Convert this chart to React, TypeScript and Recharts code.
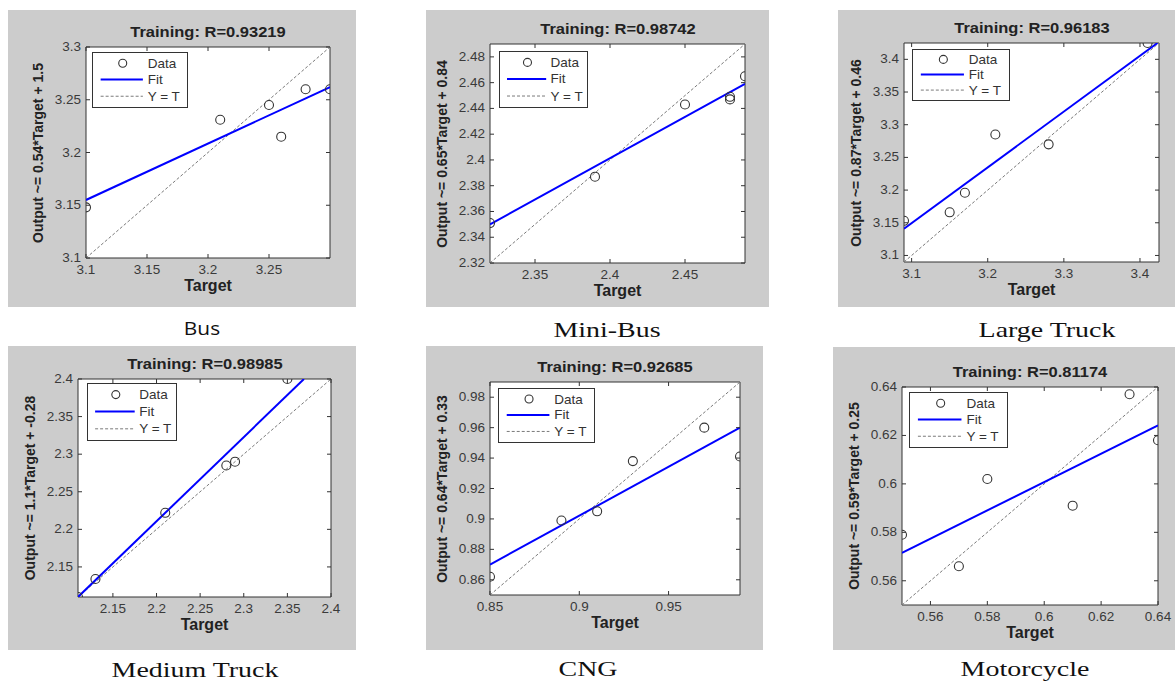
import React from 'react';
import { ScatterChart, Scatter, XAxis, YAxis, CartesianGrid, ReferenceLine } from 'recharts';

// ---------- Bus ----------
const busTarget = [3.1, 3.21, 3.25, 3.26, 3.28, 3.3];
const busOutput = [3.148, 3.231, 3.245, 3.215, 3.26, 3.26];
const busFitX = [3.1, 3.3];
const busFitY = [3.155, 3.262];
const busDomain = [3.1, 3.3];
const busXTicks = [3.1, 3.15, 3.2, 3.25];
const busYTicks = [3.1, 3.15, 3.2, 3.25, 3.3];

// ---------- Mini-Bus ----------
const miniTarget = [2.32, 2.39, 2.45, 2.48, 2.48, 2.49];
const miniOutput = [2.351, 2.387, 2.443, 2.447, 2.449, 2.465];
const miniFitX = [2.32, 2.49];
const miniFitY = [2.35, 2.459];
const miniDomain = [2.32, 2.49];
const miniXTicks = [2.35, 2.4, 2.45];
const miniYTicks = [2.32, 2.34, 2.36, 2.38, 2.4, 2.42, 2.44, 2.46, 2.48];

// ---------- Large Truck ----------
const largeTarget = [3.09, 3.15, 3.17, 3.21, 3.28, 3.41];
const largeOutput = [3.153, 3.166, 3.196, 3.285, 3.27, 3.425];
const largeFitX = [3.09, 3.423];
const largeFitY = [3.141, 3.425];
const largeDomain = [3.09, 3.425];
const largeXTicks = [3.1, 3.2, 3.3, 3.4];
const largeYTicks = [3.1, 3.15, 3.2, 3.25, 3.3, 3.35, 3.4];

// ---------- Medium Truck ----------
const mediumTarget = [2.11, 2.13, 2.21, 2.28, 2.29, 2.35];
const mediumOutput = [2.11, 2.134, 2.222, 2.285, 2.29, 2.4];
const mediumFitX = [2.11, 2.369];
const mediumFitY = [2.11, 2.4];
const mediumDomain = [2.11, 2.4];
const mediumXTicks = [2.15, 2.2, 2.25, 2.3, 2.35, 2.4];
const mediumYTicks = [2.15, 2.2, 2.25, 2.3, 2.35, 2.4];

// ---------- CNG ----------
const cngTarget = [0.85, 0.89, 0.91, 0.93, 0.97, 0.99];
const cngOutput = [0.862, 0.899, 0.905, 0.938, 0.96, 0.941];
const cngFitX = [0.85, 0.99];
const cngFitY = [0.870, 0.96];
const cngDomain = [0.85, 0.99];
const cngXTicks = [0.85, 0.9, 0.95];
const cngYTicks = [0.86, 0.88, 0.9, 0.92, 0.94, 0.96, 0.98];

// ---------- Motorcycle ----------
const motoTarget = [0.55, 0.57, 0.58, 0.61, 0.63, 0.64];
const motoOutput = [0.579, 0.566, 0.602, 0.591, 0.637, 0.618];
const motoFitX = [0.55, 0.64];
const motoFitY = [0.5715, 0.6242];
const motoDomain = [0.55, 0.64];
const motoXTicks = [0.56, 0.58, 0.6, 0.62, 0.64];
const motoYTicks = [0.56, 0.58, 0.6, 0.62, 0.64];

const titles = [
  'Training: R=0.93219',
  'Training: R=0.98742',
  'Training: R=0.96183',
  'Training: R=0.98985',
  'Training: R=0.92685',
  'Training: R=0.81174',
];
const yLabels = [
  'Output ~= 0.54*Target + 1.5',
  'Output ~= 0.65*Target + 0.84',
  'Output ~= 0.87*Target + 0.46',
  'Output ~= 1.1*Target + -0.28',
  'Output ~= 0.64*Target + 0.33',
  'Output ~= 0.59*Target + 0.25',
];
const captions = ['Bus', 'Mini-Bus', 'Large Truck', 'Medium Truck', 'CNG', 'Motorcycle'];
const legendLabels = ['Data', 'Fit', 'Y = T'];

const SANS = '"Liberation Sans", Arial, sans-serif';
const SERIF = '"Liberation Serif", "Times New Roman", serif';
const FRAME = '#333333';

type Box = { x: number; y: number; w: number; h: number };
type Plot = { l: number; t: number; r: number; b: number };

const layouts: { box: Box; plot: Plot; cap: { x: number; y: number; sans?: boolean }; leg: { dx: number; dy: number; w: number; h: number } }[] = [
  { box: { x: 8, y: 10, w: 348, h: 297 }, plot: { l: 86, t: 47, r: 330, b: 258 }, cap: { x: 202, y: 328, sans: true }, leg: { dx: 6, dy: 5, w: 96, h: 56 } },
  { box: { x: 426, y: 10, w: 343, h: 297 }, plot: { l: 490, t: 44, r: 745, b: 263 }, cap: { x: 607, y: 330 }, leg: { dx: 9, dy: 7, w: 89, h: 57 } },
  { box: { x: 838, y: 10, w: 337, h: 297 }, plot: { l: 904, t: 43, r: 1159, b: 262 }, cap: { x: 1047, y: 330 }, leg: { dx: 8, dy: 6, w: 98, h: 52 } },
  { box: { x: 8, y: 346, w: 348, h: 304 }, plot: { l: 78, t: 379, r: 331, b: 597 }, cap: { x: 195, y: 670 }, leg: { dx: 9, dy: 4, w: 90, h: 58 } },
  { box: { x: 426, y: 346, w: 337, h: 304 }, plot: { l: 490, t: 382, r: 740, b: 595 }, cap: { x: 588, y: 669 }, leg: { dx: 8, dy: 6, w: 97, h: 55 } },
  { box: { x: 833, y: 347, w: 342, h: 303 }, plot: { l: 902, t: 387, r: 1158, b: 605 }, cap: { x: 1025, y: 669 }, leg: { dx: 7, dy: 5, w: 99, h: 56 } },
];

const panelData = [
  { tx: busTarget, ty: busOutput, fx: busFitX, fy: busFitY, domain: busDomain, xt: busXTicks, yt: busYTicks },
  { tx: miniTarget, ty: miniOutput, fx: miniFitX, fy: miniFitY, domain: miniDomain, xt: miniXTicks, yt: miniYTicks },
  { tx: largeTarget, ty: largeOutput, fx: largeFitX, fy: largeFitY, domain: largeDomain, xt: largeXTicks, yt: largeYTicks },
  { tx: mediumTarget, ty: mediumOutput, fx: mediumFitX, fy: mediumFitY, domain: mediumDomain, xt: mediumXTicks, yt: mediumYTicks },
  { tx: cngTarget, ty: cngOutput, fx: cngFitX, fy: cngFitY, domain: cngDomain, xt: cngXTicks, yt: cngYTicks },
  { tx: motoTarget, ty: motoOutput, fx: motoFitX, fy: motoFitY, domain: motoDomain, xt: motoXTicks, yt: motoYTicks },
];

const zip = (xs: number[], ys: number[]) => xs.map((x, i) => ({ x, y: ys[i] }));

const Nothing = () => <g />;
const OpenCircle = (p: any) => (
  <circle cx={p.cx} cy={p.cy} r={4.5} fill="none" stroke="#333" strokeWidth={1.1} />
);

function Panel({ idx }: { idx: number }) {
  const { box, plot, cap, leg } = layouts[idx];
  const d = panelData[idx];
  const yAxisW = 40;
  const xAxisH = 20;
  const margin = {
    top: plot.t - box.y,
    left: plot.l - box.x - yAxisW,
    right: box.x + box.w - plot.r,
    bottom: box.y + box.h - plot.b - xAxisH,
  };
  const pT = plot.t - box.y;
  const pB = plot.b - box.y;
  const pL = plot.l - box.x;
  const pR = plot.r - box.x;
  const points = zip(d.tx, d.ty);
  const fit = zip(d.fx, d.fy);
  const ident = zip(d.domain, d.domain);

  const XTick = (p: any) => (
    <g>
      <line x1={p.x} x2={p.x} y1={pB} y2={pB - 4} stroke={FRAME} strokeWidth={1} />
      <line x1={p.x} x2={p.x} y1={pT} y2={pT + 4} stroke={FRAME} strokeWidth={1} />
      <text x={p.x} y={pB + 16} textAnchor="middle" fontSize={13.5} fontFamily={SANS} fill="#3a3a3a">
        {String(p.payload.value)}
      </text>
    </g>
  );
  const YTick = (p: any) => (
    <g>
      <line x1={pL} x2={pL + 4} y1={p.y} y2={p.y} stroke={FRAME} strokeWidth={1} />
      <line x1={pR} x2={pR - 4} y1={p.y} y2={p.y} stroke={FRAME} strokeWidth={1} />
      <text x={pL - 5} y={p.y + 4} textAnchor="end" fontSize={13.5} fontFamily={SANS} fill="#3a3a3a">
        {String(p.payload.value)}
      </text>
    </g>
  );

  const cx = (plot.l + plot.r) / 2;
  const cy = (plot.t + plot.b) / 2;
  const rows = [leg.h * 0.2, leg.h * 0.49, leg.h * 0.79];

  return (
    <>
      <div style={{ position: 'absolute', left: box.x, top: box.y, width: box.w, height: box.h, background: '#cccccc' }} />
      <div style={{ position: 'absolute', left: box.x, top: box.y }}>
        <ScatterChart width={box.w} height={box.h} margin={margin}>
          <CartesianGrid fill="#ffffff" stroke="none" horizontal={false} vertical={false} />
          <XAxis
            type="number"
            dataKey="x"
            domain={d.domain}
            ticks={d.xt}
            interval={0}
            allowDataOverflow
            height={xAxisH}
            tickSize={0}
            tickMargin={0}
            axisLine={{ stroke: FRAME, strokeWidth: 1 }}
            tickLine={false}
            tick={XTick}
          />
          <YAxis
            type="number"
            dataKey="y"
            domain={d.domain}
            ticks={d.yt}
            interval={0}
            allowDataOverflow
            width={yAxisW}
            tickSize={0}
            tickMargin={0}
            axisLine={{ stroke: FRAME, strokeWidth: 1 }}
            tickLine={false}
            tick={YTick}
          />
          <ReferenceLine x={d.domain[1]} stroke={FRAME} strokeWidth={1} />
          <ReferenceLine y={d.domain[1]} stroke={FRAME} strokeWidth={1} />
          <Scatter
            data={ident}
            line={{ stroke: '#7a7a7a', strokeWidth: 1, strokeDasharray: '3 2' }}
            shape={Nothing}
            isAnimationActive={false}
          />
          <Scatter data={fit} line={{ stroke: '#0000ff', strokeWidth: 2 }} shape={Nothing} isAnimationActive={false} />
          <Scatter data={points} shape={OpenCircle} isAnimationActive={false} />
        </ScatterChart>
      </div>
      {/* legend */}
      <div
        style={{
          position: 'absolute',
          left: plot.l + leg.dx,
          top: plot.t + leg.dy,
          width: leg.w,
          height: leg.h,
          border: `1px solid ${FRAME}`,
          background: '#fff',
          boxSizing: 'border-box',
        }}
      >
        <svg width={leg.w} height={leg.h} style={{ position: 'absolute', left: -1, top: -1 }}>
          <circle cx={leg.w * 0.32} cy={rows[0]} r={4} fill="none" stroke="#333" strokeWidth={1.1} />
          <line x1={leg.w * 0.09} x2={leg.w * 0.53} y1={rows[1]} y2={rows[1]} stroke="#0000ff" strokeWidth={2} />
          <line x1={leg.w * 0.09} x2={leg.w * 0.53} y1={rows[2]} y2={rows[2]} stroke="#7a7a7a" strokeWidth={1} strokeDasharray="3 2" />
          {legendLabels.map((t, i) => (
            <text key={t} x={leg.w * 0.58} y={rows[i] + 4.5} fontSize={13.5} fontFamily={SANS} fill="#333">
              {t}
            </text>
          ))}
        </svg>
      </div>
      {/* title */}
      <div
        style={{
          position: 'absolute',
          left: cx,
          top: plot.t - 16,
          transform: 'translate(-50%, -50%) scaleX(1.1)',
          whiteSpace: 'nowrap',
          fontFamily: SANS,
          fontWeight: 'bold',
          fontSize: 15,
          color: '#222',
          lineHeight: 1,
        }}
      >
        {titles[idx]}
      </div>
      {/* y label */}
      <div
        style={{
          position: 'absolute',
          left: plot.l - 48,
          top: cy,
          transform: 'translate(-50%, -50%) rotate(-90deg)',
          whiteSpace: 'nowrap',
          fontFamily: SANS,
          fontWeight: 'bold',
          fontSize: 14,
          color: '#222',
          lineHeight: 1,
        }}
      >
        {yLabels[idx]}
      </div>
      {/* x label */}
      <div
        style={{
          position: 'absolute',
          left: cx,
          top: plot.b + 28,
          transform: 'translate(-50%, -50%)',
          whiteSpace: 'nowrap',
          fontFamily: SANS,
          fontWeight: 'bold',
          fontSize: 16,
          color: '#222',
          lineHeight: 1,
        }}
      >
        Target
      </div>
      {/* caption */}
      <div
        style={{
          position: 'absolute',
          left: cap.x,
          top: cap.y,
          transform: cap.sans ? 'translate(-50%, -50%) scaleX(1.1)' : 'translate(-50%, -50%) scaleX(1.27)',
          whiteSpace: 'nowrap',
          fontFamily: cap.sans ? '"Open Sans", "Liberation Sans", sans-serif' : SERIF,
          fontSize: cap.sans ? 19 : 22,
          color: '#111',
          lineHeight: 1,
        }}
      >
        {captions[idx]}
      </div>
    </>
  );
}

export default function App() {
  return (
    <div
      style={{
        position: 'fixed',
        left: 0,
        top: 0,
        width: 1175,
        height: 682,
        background: '#ffffff',
        overflow: 'hidden',
      }}
    >
      {[0, 1, 2, 3, 4, 5].map((i) => (
        <Panel key={i} idx={i} />
      ))}
    </div>
  );
}
